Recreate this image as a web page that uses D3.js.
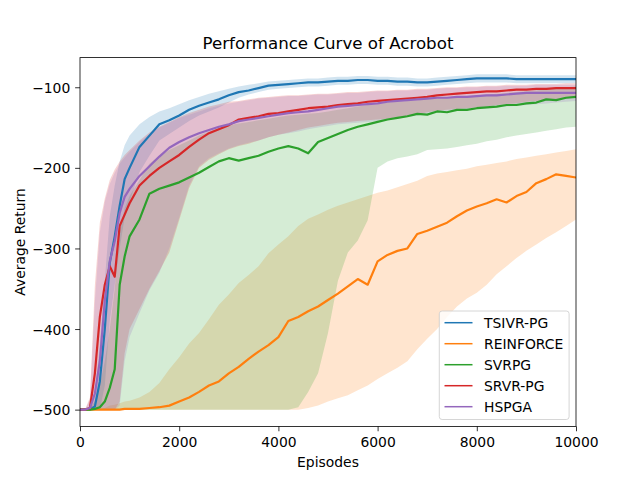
<!DOCTYPE html>
<html><head><meta charset="utf-8">
<script src="https://cdn.jsdelivr.net/npm/d3@7"></script>
<style>body{margin:0;background:#fff}svg{display:block}text{font-family:"DejaVu Sans",sans-serif}</style>
</head><body><svg id="c" width="640" height="480"></svg>
<script>
const episodes = [0,100,200,300,400,500,600,700,800,900,1000,1200,1400,1600,1800,2000,2200,2400,2600,2800,3000,3200,3400,3600,3800,4000,4200,4400,4600,4800,5000,5200,5400,5600,5800,6000,6200,6400,6600,6800,7000,7200,7400,7600,7800,8000,8200,8400,8600,8800,9000,9200,9400,9600,9800,10000];
const seriesNames = ["TSIVR-PG","REINFORCE","SVRPG","SRVR-PG","HSPGA"];
const seriesColors = ["#1f77b4","#ff7f0e","#2ca02c","#d62728","#9467bd"];

const tsivrMean = [-500,-500,-500,-496,-465,-400,-318,-285,-247,-214,-200,-174,-160,-146,-141,-135,-128,-123,-119,-115,-110,-106,-104,-101,-98,-97,-96,-95,-94,-94,-93,-92,-92,-91,-91,-92,-92,-93,-93,-94,-94,-93,-92,-91,-90,-89,-89,-89,-89,-90,-90,-90,-90,-90,-90,-90];
const tsivrHi = [-500,-500,-499,-480,-420,-340,-260,-222,-192,-172,-160,-146,-137,-130,-126,-121,-116,-112,-108,-105,-102,-99,-97,-95,-93,-92,-91,-90,-89,-89,-88,-87,-87,-86,-86,-87,-87,-88,-88,-89,-89,-88,-87,-86,-85,-84,-84,-84,-84,-85,-85,-85,-85,-85,-85,-85];
const tsivrLo = [-500,-500,-500,-500,-500,-470,-390,-345,-300,-262,-242,-205,-185,-166,-158,-150,-142,-135,-130,-125,-119,-113,-109,-106,-103,-102,-101,-100,-99,-99,-98,-97,-97,-96,-96,-97,-97,-98,-98,-99,-99,-98,-97,-96,-95,-94,-94,-94,-94,-95,-95,-95,-95,-95,-95,-95];

const reinforceMean = [-500,-500,-500,-500,-500,-500,-500,-500,-500,-499,-499,-499,-498,-497,-495,-490,-485,-478,-470,-465,-455,-447,-437,-428,-420,-410,-390,-385,-378,-372,-364,-356,-347,-338,-345,-316,-308,-303,-300,-282,-278,-273,-268,-260,-253,-248,-244,-239,-243,-235,-230,-219,-214,-208,-210,-212];
const reinforceHi = [-500,-500,-500,-500,-499,-498,-495,-494,-492,-490,-489,-485,-478,-467,-450,-435,-418,-405,-388,-370,-357,-343,-333,-322,-306,-295,-285,-272,-263,-258,-252,-247,-243,-239,-235,-231,-228,-224,-220,-216,-210,-207,-205,-203,-201,-198,-196,-194,-192,-189,-187,-185,-183,-181,-179,-177];
const reinforceLo = [-500,-500,-500,-500,-500,-500,-500,-500,-500,-500,-500,-500,-500,-500,-500,-500,-500,-500,-500,-500,-500,-500,-500,-500,-500,-500,-500,-500,-498,-495,-490,-486,-482,-476,-470,-462,-455,-448,-440,-425,-412,-400,-385,-372,-362,-355,-345,-332,-322,-312,-303,-295,-287,-280,-272,-264];

const svrpgMean = [-500,-500,-500,-499,-497,-490,-473,-450,-345,-310,-285,-264,-232,-226,-222,-218,-212,-206,-199,-192,-188,-191,-188,-185,-180,-176,-173,-176,-182,-168,-163,-158,-153,-149,-146,-143,-140,-138,-136,-133,-134,-130,-131,-128,-128,-126,-125,-124,-122,-122,-120,-119,-115,-116,-113,-112];
const svrpgHi = [-500,-500,-498,-490,-470,-440,-400,-350,-280,-250,-235,-215,-195,-185,-178,-172,-166,-160,-155,-150,-147,-145,-143,-141,-139,-137,-135,-134,-133,-132,-130,-128,-126,-124,-122,-121,-119,-118,-117,-116,-115,-114,-113,-112,-111,-110,-109,-108,-107,-106,-105,-104,-102,-101,-100,-99];
const svrpgLo = [-500,-500,-500,-500,-500,-500,-500,-500,-500,-500,-500,-500,-500,-500,-500,-500,-500,-500,-500,-500,-500,-500,-500,-500,-500,-500,-500,-497,-478,-455,-405,-340,-305,-290,-265,-200,-192,-188,-186,-183,-178,-177,-176,-174,-172,-170,-167,-165,-162,-160,-158,-156,-154,-152,-150,-149];

const srvrMean = [-500,-500,-498,-455,-385,-345,-322,-335,-272,-258,-244,-222,-210,-200,-192,-184,-174,-165,-157,-152,-147,-140,-138,-136,-133,-132,-130,-128,-126,-125,-124,-122,-121,-120,-118,-117,-116,-115,-114,-113,-112,-110,-109,-108,-107,-106,-105,-105,-104,-103,-103,-102,-102,-101,-101,-101];
const srvrHi = [-500,-500,-485,-345,-268,-238,-215,-202,-192,-184,-178,-166,-156,-149,-143,-137,-132,-128,-124,-121,-118,-117,-115,-113,-112,-111,-110,-110,-109,-108,-108,-107,-106,-106,-105,-104,-104,-103,-103,-102,-102,-101,-100,-100,-99,-99,-98,-98,-97,-97,-97,-96,-96,-96,-95,-95];
const srvrLo = [-500,-500,-500,-500,-500,-500,-500,-500,-490,-430,-400,-375,-350,-328,-305,-265,-225,-200,-190,-183,-177,-173,-170,-166,-162,-159,-156,-153,-150,-148,-146,-144,-143,-142,-141,-140,-139,-137,-136,-134,-131,-129,-128,-127,-126,-125,-124,-122,-121,-120,-118,-117,-116,-115,-114,-113];

const hspgaMean = [-500,-500,-498,-480,-440,-365,-316,-291,-256,-236,-226,-210,-198,-186,-175,-168,-162,-157,-153,-149,-146,-142,-140,-138,-136,-134,-132,-131,-130,-128,-126,-124,-123,-122,-121,-120,-118,-117,-116,-115,-114,-113,-113,-112,-112,-111,-110,-110,-109,-108,-107,-107,-107,-107,-107,-107];
const hspgaHi = [-500,-500,-488,-365,-280,-242,-220,-206,-195,-187,-180,-168,-158,-150,-144,-138,-134,-130,-126,-123,-120,-118,-116,-114,-113,-112,-111,-111,-110,-109,-109,-108,-107,-107,-106,-105,-105,-104,-104,-103,-103,-102,-101,-101,-100,-100,-99,-99,-98,-98,-98,-97,-97,-97,-97,-97];
const hspgaLo = [-500,-500,-500,-500,-500,-500,-500,-500,-495,-440,-410,-380,-352,-330,-300,-262,-222,-198,-188,-182,-176,-172,-169,-166,-162,-159,-157,-155,-152,-150,-148,-146,-145,-144,-143,-142,-140,-139,-137,-135,-133,-131,-130,-129,-128,-127,-126,-125,-124,-123,-122,-121,-120,-119,-118,-117];

const xTicks = [0,2000,4000,6000,8000,10000];
const yTicks = [-500,-400,-300,-200,-100];

const series = [
  {name: seriesNames[0], color: seriesColors[0], mean: tsivrMean, lo: tsivrLo, hi: tsivrHi},
  {name: seriesNames[1], color: seriesColors[1], mean: reinforceMean, lo: reinforceLo, hi: reinforceHi},
  {name: seriesNames[2], color: seriesColors[2], mean: svrpgMean, lo: svrpgLo, hi: svrpgHi},
  {name: seriesNames[3], color: seriesColors[3], mean: srvrMean, lo: srvrLo, hi: srvrHi},
  {name: seriesNames[4], color: seriesColors[4], mean: hspgaMean, lo: hspgaLo, hi: hspgaHi}
];

const L = 80, R = 576, T = 57.6, B = 426.4;
const svg = d3.select("#c");
const fs = 13.9;

const yMin = d3.min(series, s => d3.min(s.lo));
const yMax = d3.max(series, s => d3.max(s.hi));
const pad = (yMax - yMin) * 0.05;
const x = d3.scaleLinear().domain([0, 10000]).range([L, R]);
const y = d3.scaleLinear().domain([yMin - pad, yMax + pad]).range([B, T]);

svg.append("defs").append("clipPath").attr("id","clip")
  .append("rect").attr("x",L).attr("y",T).attr("width",R-L).attr("height",B-T);

const plot = svg.append("g").attr("clip-path","url(#clip)");
const area = d3.area().x((d,i)=>x(episodes[i])).y0(d=>y(d[0])).y1(d=>y(d[1]));
const line = d3.line().x((d,i)=>x(episodes[i])).y(d=>y(d));

series.forEach(s => {
  plot.append("path").datum(s.lo.map((v,i)=>[v, s.hi[i]]))
    .attr("d", area).attr("fill", s.color).attr("fill-opacity", 0.2).attr("stroke","none");
});
series.forEach(s => {
  plot.append("path").datum(s.mean).attr("d", line)
    .attr("fill","none").attr("stroke", s.color).attr("stroke-width", 2.2)
    .attr("stroke-linejoin","round");
});

// axes
const fmt = d3.format("d");
const xAxis = d3.axisBottom(x).tickValues(xTicks).tickSize(4.86).tickPadding(5.5).tickFormat(fmt);
const yAxis = d3.axisLeft(y).tickValues(yTicks).tickSize(4.86).tickPadding(4.86).tickFormat(fmt);
const gx = svg.append("g").attr("transform",`translate(0,${B})`).call(xAxis);
const gy = svg.append("g").attr("transform",`translate(${L},0)`).call(yAxis);
[gx, gy].forEach(g => {
  g.select(".domain").remove();
  g.selectAll(".tick line").attr("stroke","#000").attr("stroke-width",0.8);
  g.selectAll(".tick text").attr("font-size", fs).attr("fill","#000").attr("font-family","DejaVu Sans");
});
gy.selectAll(".tick text").attr("dy","0.36em");

svg.append("rect").attr("x",L).attr("y",T).attr("width",R-L).attr("height",B-T)
  .attr("fill","none").attr("stroke","#000").attr("stroke-width",0.8);

svg.append("text").attr("x",(L+R)/2).attr("y",49.3).attr("text-anchor","middle")
  .attr("font-size",16.67).text("Performance Curve of Acrobot");
svg.append("text").attr("x",(L+R)/2).attr("y",467).attr("text-anchor","middle")
  .attr("font-size",fs).text("Episodes");
svg.append("text").attr("transform",`translate(19.5,${(T+B)/2}) rotate(-90)`)
  .attr("text-anchor","middle").attr("dominant-baseline","central")
  .attr("font-size",fs).text("Average Return");

// legend
const lg = svg.append("g");
const lx = 439.3, ly = 311, lw = 129.8, lh = 108.5;
lg.append("rect").attr("x",lx).attr("y",ly).attr("width",lw).attr("height",lh)
  .attr("rx",2.8).attr("fill","#fff").attr("fill-opacity",0.8)
  .attr("stroke","#cccccc").attr("stroke-width",0.8);
series.forEach((s,i) => {
  const cy = 322.7 + i*21;
  lg.append("line").attr("x1",444.5).attr("x2",472.5).attr("y1",cy).attr("y2",cy)
    .attr("stroke",s.color).attr("stroke-width",1.5);
  lg.append("text").attr("x",484).attr("y",cy).attr("dominant-baseline","central")
    .attr("font-size",fs).text(s.name);
});
</script></body></html>
